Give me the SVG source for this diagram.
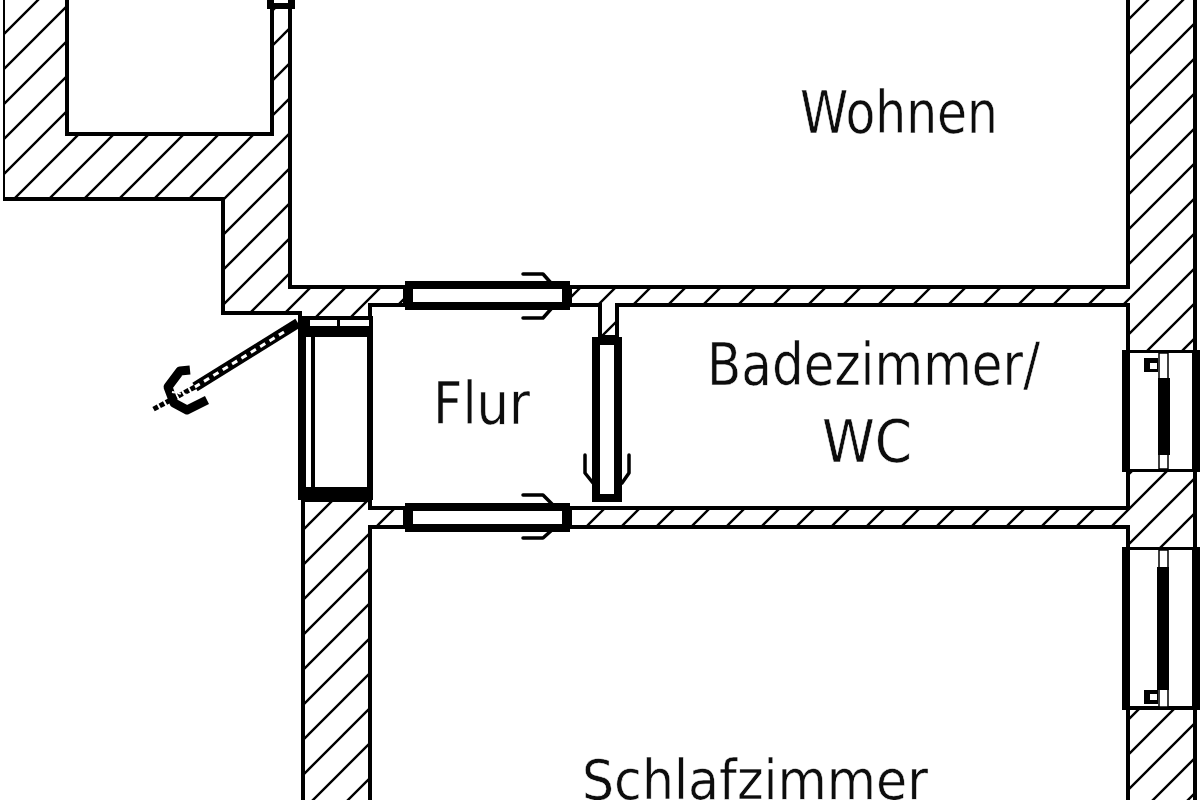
<svg xmlns="http://www.w3.org/2000/svg" width="1200" height="800" viewBox="0 0 1200 800">
<style>
.wall{stroke:#000;stroke-width:4;stroke-linejoin:miter}
.wa{fill:url(#hA)}
.wb{fill:url(#hB)}
.h{fill:none;stroke:#000;stroke-width:3.5;stroke-linecap:round;stroke-linejoin:round}
.door{fill:#fff;stroke:#000;stroke-width:8}
.k{fill:#000;stroke:none}
.w{fill:#fff;stroke:none}
.win{fill:#fff;stroke:#000;stroke-width:2}
text{font-family:"DejaVu Sans","Liberation Sans",sans-serif;font-size:58px;fill:#111;stroke:#fff;stroke-width:.5}
</style>
<defs>
<pattern id="hA" width="35" height="35" patternUnits="userSpaceOnUse" patternTransform="translate(3,0)">
<path d="M-2,37 L37,-2 M-2,2 L2,-2 M33,37 L37,33" stroke="#000" stroke-width="2.4"/>
</pattern>
<pattern id="hB" width="35" height="35" patternUnits="userSpaceOnUse" patternTransform="translate(28,0)">
<path d="M-2,37 L37,-2 M-2,2 L2,-2 M33,37 L37,33" stroke="#000" stroke-width="2.4"/>
</pattern>
<filter id="soft" x="0" y="0" width="100%" height="100%"><feGaussianBlur stdDeviation="0.55"/></filter>
</defs>
<rect width="1200" height="800" fill="#fff"/>
<g filter="url(#soft)">
<g id="walls">
<path class="wall wa" d="M3,-5 V199 H223 V313 H300 V325 H370 V305 H405 V287 H290 V-5 H272 V134 H67 V-5 Z"/>
<path class="wall wb" d="M570,287 H1128 V-5 H1195 V805 H1128 V527 H570 V508 H1128 V305 H617 V337 H600 V305 H570 Z"/>
<path class="wall wb" d="M303,500 V805 H370 V527 H405 V508 H370 V500 Z"/>
</g>

<g id="door-top">
<rect x="267" y="-8" width="28" height="17" class="k"/>
<rect x="274" y="-8" width="14" height="11" class="w"/>
</g>

<g id="door-entrance">
<rect x="298" y="316" width="75" height="184" class="k"/>
<rect x="306" y="337" width="5" height="150" class="w"/>
<rect x="315" y="337" width="52" height="150" class="w"/>
<rect x="310" y="320" width="59" height="6" class="w"/>
<rect x="337" y="318" width="3" height="9" class="k"/>
<path d="M298,323 L195,387" stroke="#000" stroke-width="10" fill="none"/>
<path d="M284,332 L190,390" stroke="#fff" stroke-width="3" stroke-dasharray="6 5" fill="none"/>
<path d="M195,387 L152,410" stroke="#000" stroke-width="5" stroke-dasharray="5 2" fill="none"/>
<path d="M190,370 L180,371 L168,387 L174,403 L187,410 L207,400" fill="none" stroke="#000" stroke-width="9" stroke-linejoin="round"/>
<path d="M172,392 L198,397" stroke="#fff" stroke-width="2" stroke-dasharray="3 3" fill="none"/>
</g>

<g id="door-upper">
<rect x="409" y="285" width="157" height="21" class="door"/>
<path class="h" d="M523,274 H543 L551,283"/>
<path class="h" d="M523,318 H543 L551,309"/>
</g>

<g id="door-lower">
<rect x="409" y="507" width="157" height="21" class="door"/>
<path class="h" d="M523,495 H543 L552,504"/>
<path class="h" d="M523,538 H543 L552,530"/>
</g>

<g id="door-bath">
<rect x="596" y="341" width="22" height="157" class="door"/>
<path class="h" d="M585,455 V473 L593,483"/>
<path class="h" d="M629,455 V473 L622,483"/>
</g>

<g id="window-upper">
<rect x="1126" y="352" width="70" height="118" class="win"/>
<rect x="1122" y="350" width="8" height="122" class="k"/>
<rect x="1192" y="350" width="8" height="122" class="k"/>
<rect x="1122" y="350" width="78" height="3" class="k"/>
<rect x="1122" y="469" width="78" height="3" class="k"/>
<rect x="1159" y="353" width="9" height="116" fill="#fff" stroke="#000" stroke-width="1.5"/>
<rect x="1158" y="378" width="12" height="77" class="k"/>
<rect x="1144" y="358" width="14" height="14" class="k"/>
<rect x="1150" y="363" width="7" height="6" class="w"/>
</g>

<g id="window-lower">
<rect x="1126" y="549" width="70" height="158" class="win"/>
<rect x="1122" y="547" width="8" height="163" class="k"/>
<rect x="1192" y="547" width="8" height="163" class="k"/>
<rect x="1122" y="547" width="78" height="3" class="k"/>
<rect x="1122" y="707" width="78" height="3" class="k"/>
<rect x="1159" y="550" width="9" height="157" fill="#fff" stroke="#000" stroke-width="1.5"/>
<rect x="1157" y="567" width="12" height="123" class="k"/>
<rect x="1144" y="690" width="14" height="14" class="k"/>
<rect x="1150" y="694" width="7" height="6" class="w"/>
</g>

<g id="labels">
<text x="800" y="133" textLength="198" lengthAdjust="spacingAndGlyphs">Wohnen</text>
<text x="707" y="385" textLength="333" lengthAdjust="spacingAndGlyphs">Badezimmer/</text>
<text x="822" y="462" textLength="90" lengthAdjust="spacingAndGlyphs">WC</text>
<text x="433" y="424" textLength="97" lengthAdjust="spacingAndGlyphs">Flur</text>
<text x="582" y="799" font-size="56" style="font-size:56px" textLength="346" lengthAdjust="spacingAndGlyphs">Schlafzimmer</text>
</g>
</g>
</svg>
